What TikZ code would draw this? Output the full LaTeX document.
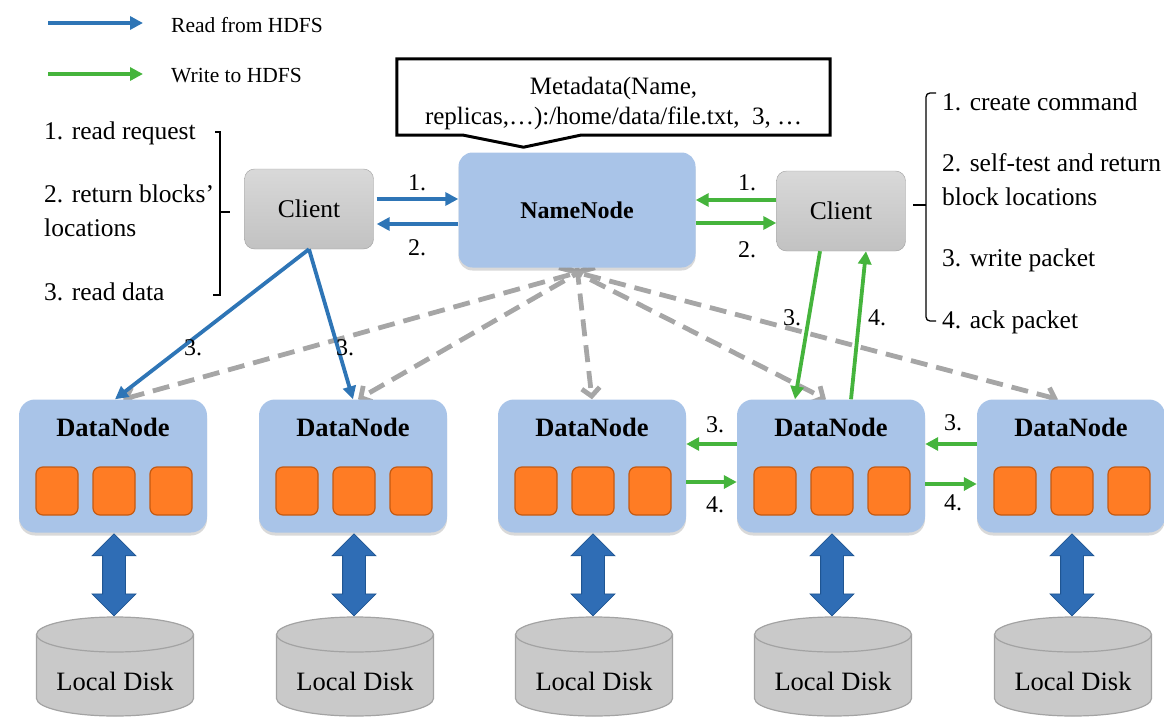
\documentclass[tikz,border=0pt]{standalone}
\usepackage{fontspec}
\setmainfont{Liberation Serif}
\usetikzlibrary{arrows.meta,shapes.arrows,shadows,calc,backgrounds}

\definecolor{nodeblue}{HTML}{A9C4E8}
\definecolor{readblue}{HTML}{2E75B6}
\definecolor{writegreen}{HTML}{45B43C}
\definecolor{dashgray}{HTML}{A6A6A6}
\definecolor{blockorange}{HTML}{FF7C24}
\definecolor{blockedge}{HTML}{C55A11}
\definecolor{diskgray}{HTML}{C9C9C9}
\definecolor{diskedge}{HTML}{A3A3A3}
\definecolor{arrowblue}{HTML}{2F6DB5}
\definecolor{arrowedge}{HTML}{1F5592}

\tikzset{
  txt/.style={inner sep=0pt, font=\fontsize{25.5}{34}\selectfont},
  num/.style={inner sep=0pt, font=\fontsize{24}{26}\selectfont},
  legend/.style={inner sep=0pt, anchor=west, font=\fontsize{21.5}{24}\selectfont},
  boxshadow/.style={drop shadow={opacity=.3, shadow xshift=0pt, shadow yshift=-3pt}},
  namebox/.style={rounded corners=14pt, fill=nodeblue, minimum width=237pt, minimum height=115pt,
    boxshadow, font=\fontsize{24}{26}\selectfont\bfseries},
  clientbox/.style={rounded corners=10pt, draw=gray!75, top color=gray!30, bottom color=gray!48,
    minimum width=129pt, minimum height=80pt, font=\fontsize{25.5}{28}\selectfont},
  databox/.style={rounded corners=16pt, fill=nodeblue, minimum width=188pt, minimum height=133pt, boxshadow},
  dntitle/.style={inner sep=0pt, font=\fontsize{26.5}{28}\selectfont\bfseries},
  blockbox/.style={rounded corners=7pt, fill=blockorange, draw=blockedge, line width=1.2pt,
    minimum width=42pt, minimum height=48pt, inner sep=0pt},
  disk/.style={draw=diskedge, fill=diskgray, line width=1.2pt},
  disklabel/.style={inner sep=0pt, font=\fontsize{26.5}{28}\selectfont},
  dbl/.style={double arrow, rotate=90, fill=arrowblue, draw=arrowedge, line width=.8pt,
    minimum height=82pt, minimum width=43pt, double arrow head extend=10.5pt,
    inner xsep=0pt, inner ysep=11pt},
  readline/.style={draw=readblue, line width=3.8pt, -{Triangle[length=13pt,width=13pt]}},
  writeline/.style={draw=writegreen, line width=3.8pt, -{Triangle[length=13pt,width=13pt]}},
  hbline/.style={draw=dashgray, line width=4.8pt, dash pattern=on 17pt off 9pt,
    -{Straight Barb[length=8pt,width=18pt]}},
  bracket/.style={line width=1.3pt},
  metabox/.style={minimum width=433pt, minimum height=76pt, inner sep=0pt}
}

\begin{document}
\begin{tikzpicture}[x=1pt,y=-1pt]
\useasboundingbox (0,0) rectangle (1164,717);

% legend
\node[legend] (lgread) at (171,25) {Read from HDFS};
\node[legend] (lgwrite) at (171,76) {Write to HDFS};
\draw[readline] ([xshift=-123pt,yshift=2pt]lgread.west) -- ([xshift=-28pt,yshift=2pt]lgread.west);
\draw[writeline] ([xshift=-123pt,yshift=2pt]lgwrite.west) -- ([xshift=-28pt,yshift=2pt]lgwrite.west);

% namenode, clients and metadata
\node[namebox] (nn) at (577,210) {NameNode};
\node[clientbox] (cl) at (309,209) {Client};
\node[clientbox] (cr) at (841,211) {Client};

\node[metabox] (meta) at (613.5,97) {};
\node[txt, align=center, font=\fontsize{25}{30}\selectfont] (metatxt) at (613.5,103)
  {Metadata(Name,\\replicas,\dots):/home/data/file.txt,~~3, \dots};
\draw[line width=3pt] (meta.north west) -- (meta.north east) -- (meta.south east)
  -- ([xshift=-33pt]meta.south) -- ([xshift=-90pt,yshift=-12pt]meta.south)
  -- ([xshift=-150pt]meta.south) -- (meta.south west) -- cycle;

% read steps
\node[txt, anchor=west] (r1) at (44,133) {1. read request};
\node[txt, anchor=west, align=left] (r2) at (44,211) {2. return blocks’\\locations};
\node[txt, anchor=west] (r3) at (44,292) {3. read data};
\draw[bracket] (215,132) -- (220,132) -- (220,295) -- (213,295);
\draw[bracket] (220,212) -- (230,212);

% write steps
\node[txt, anchor=west] (w1) at (942,102) {1. create command};
\node[txt, anchor=west, align=left] (w2) at (942,180) {2. self-test and return\\block locations};
\node[txt, anchor=west] (w3) at (942,260) {3. write packet};
\node[txt, anchor=west] (w4) at (942,322) {4. ack packet};
\draw[bracket, rounded corners=4pt] (936,93) -- (926,93) -- (926,321) -- (936,321);
\draw[bracket] (926,205) -- (913,205);

% datanodes with blocks and disks
\foreach \x [count=\i] in {113,353,592,831,1071} {
  \node[databox] (dn\i) at (\x,466) {};
  \node[dntitle] (dt\i) at (\x,427) {DataNode};
  \foreach \dx [count=\j] in {-56,1,58}
    \node[blockbox] (b\i\j) at (\x+\dx,491) {};
  \coordinate (dk\i) at (\x+2,617);
  \filldraw[disk] ([xshift=-78.5pt,yshift=-17.5pt]dk\i) -- ++(0,64)
    arc[start angle=180, end angle=0, x radius=78.5, y radius=17.5] -- ++(0,-64)
    arc[start angle=0, end angle=-180, x radius=78.5, y radius=17.5] -- cycle;
  \draw[disk] ([xshift=-78.5pt,yshift=-17.5pt]dk\i)
    arc[start angle=180, end angle=0, x radius=78.5, y radius=17.5];
  \node[disklabel] (dl\i) at (\x+2,681) {Local Disk};
  \node[dbl] (da\i) at ($(dn\i.south)!.5!(dk\i)$) {};
}

% client <-> namenode
\draw[readline] ([xshift=3pt,yshift=10pt]cl.east) -- ([yshift=11pt]nn.west);
\draw[readline] ([yshift=-14pt]nn.west) -- ([xshift=3pt,yshift=-15pt]cl.east);
\node[num] (rl1) at (417,183) {1.};
\node[num] (rl2) at (417,248) {2.};
\draw[writeline] ([yshift=11pt]cr.west) -- ([yshift=10pt]nn.east);
\draw[writeline] ([yshift=-13pt]nn.east) -- ([yshift=-12pt]cr.west);
\node[num] (wl1) at (747,183) {1.};
\node[num] (wl2) at (747,250) {2.};

% read data
\draw[readline] (cl.south) -- ([xshift=2pt]dn1.north);
\draw[readline] (cl.south) -- (dn2.north);
\node[num] (rl3a) at (193,348) {3.};
\node[num] (rl3b) at (345,348) {3.};

% write pipeline
\draw[writeline] ([xshift=-21pt]cr.south) -- ([xshift=-36pt]dn4.north);
\draw[writeline] ([xshift=20pt]dn4.north) -- ([xshift=25pt]cr.south);
\node[num] (wl3) at (792,318) {3.};
\node[num] (wl4) at (877,318) {4.};
\draw[writeline] ([yshift=22pt]dn4.west) -- ([yshift=22pt]dn3.east);
\draw[writeline] ([yshift=-16pt]dn3.east) -- ([yshift=-16pt]dn4.west);
\draw[writeline] ([yshift=22pt]dn5.west) -- ([yshift=22pt]dn4.east);
\draw[writeline] ([yshift=-18pt]dn4.east) -- ([yshift=-18pt]dn5.west);
\node[num] (p3a) at (715,425) {3.};
\node[num] (p4a) at (715,505) {4.};
\node[num] (p3b) at (953,423) {3.};
\node[num] (p4b) at (953,503) {4.};

% heartbeats
\begin{scope}[on background layer]
  \foreach \i/\dx/\sx in {1/10/18, 2/5/10, 3/0/0, 4/-5/-10, 5/-13/-18}
    \draw[hbline] ([xshift=\sx pt]nn.south) -- ([xshift=\dx pt]dn\i.north);
\end{scope}
\end{tikzpicture}
\end{document}
